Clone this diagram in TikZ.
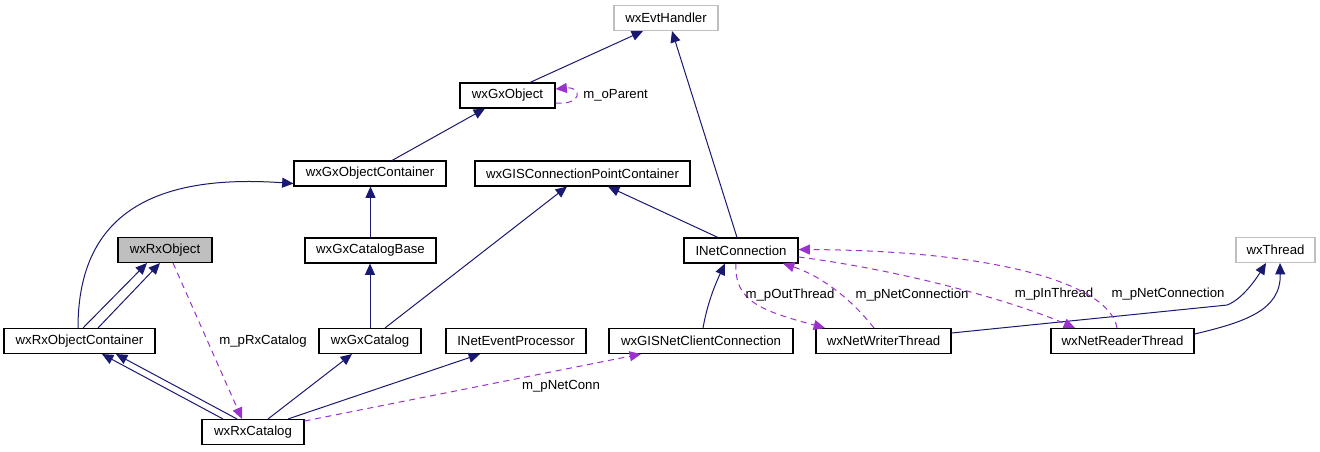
\documentclass[tikz,border=0pt]{standalone}
\usepackage{fontspec}
\setmainfont{Liberation Sans}
\usetikzlibrary{arrows.meta,calc}
\definecolor{navy}{HTML}{191970}
\definecolor{orchid}{HTML}{9A32CD}
\definecolor{lgray}{HTML}{BFBFBF}
\tikzset{
  box/.style={draw=black,line width=0.8pt,fill=white,inner sep=0pt,minimum height=18.75pt,font=\fontsize{9.9pt}{12pt}\selectfont},
  gbox/.style={box,draw=lgray},
  inh/.style={draw=navy,line width=0.75pt,-{Triangle[length=8.5pt,width=7.5pt]},fill=none},
  use/.style={draw=orchid,line width=0.75pt,dash pattern=on 4.5pt off 3.5pt,-{Triangle[length=8.5pt,width=7.5pt,fill=orchid]}},
  lbl/.style={font=\fontsize{9.9pt}{12pt}\selectfont,inner sep=0pt}
}
\begin{document}
\begin{tikzpicture}[x=0.75pt,y=-0.75pt]
\useasboundingbox (0,0) rectangle (1320,451);
% nodes
\node[gbox,minimum width=78pt] (evt) at (666,18) {wxEvtHandler};
\node[box,minimum width=71.25pt] (gxobj) at (507.5,95.5) {wxGxObject};
\node[box,minimum width=114pt] (gxoc) at (370,173.5) {wxGxObjectContainer};
\node[box,minimum width=161.25pt] (cpc) at (582.5,173.5) {wxGISConnectionPointContainer};
\node[box,minimum width=98.25pt] (gxcb) at (370.5,250.5) {wxGxCatalogBase};
\node[box,fill=lgray,minimum width=70.5pt] (rxobj) at (165,250) {wxRxObject};
\node[box,minimum width=85.5pt] (inet) at (741,250.5) {INetConnection};
\node[gbox,minimum width=59.25pt] (thread) at (1275.5,250) {wxThread};
\node[box,minimum width=113.25pt] (rxoc) at (79.5,341) {wxRxObjectContainer};
\node[box,minimum width=76.5pt] (gxcat) at (370,341) {wxGxCatalog};
\node[box,minimum width=105pt] (nep) at (516,341) {INetEventProcessor};
\node[box,minimum width=138pt] (gisnc) at (701,341) {wxGISNetClientConnection};
\node[box,minimum width=101.25pt] (writer) at (883.5,341) {wxNetWriterThread};
\node[box,minimum width=107.25pt] (reader) at (1122.5,341) {wxNetReaderThread};
\node[box,minimum width=76.5pt] (rxcat) at (253,432) {wxRxCatalog};
% inheritance edges
\draw[inh] ($(gxobj.north)+(22.5,0)$) -- ($(evt.south)+(-23,0)$);
\draw[inh] ($(gxoc.north)+(22,0)$) -- ($(gxobj.south)+(-22.5,0)$);
\draw[inh] (gxcb.north) -- (gxcb.north |- gxoc.south);
\draw[inh] (gxcat.north) -- (gxcat.north |- gxcb.south);
\draw[inh] ($(gxcat.north)+(15,0)$) -- ($(cpc.south)+(-15.5,0)$);
\draw[inh] ($(inet.north)+(-23,0)$) -- ($(cpc.south)+(25.5,0)$);
\draw[inh] ($(inet.north)+(-4,0)$) -- ($(evt.south)+(6,0)$);
\draw[inh] ($(rxoc.north)+(-1.5,0)$) .. controls ($(rxoc.north)+(-1.5,-103)$) and ($(gxoc.south west)+(-154,-14)$) .. ($(gxoc.south west)+(0,-3)$);
\draw[inh] ($(rxoc.north)+(3.5,0)$) -- ($(rxobj.south)+(-18,0)$);
\draw[inh] ($(rxoc.north)+(18.5,0)$) -- ($(rxobj.south)+(-5,0)$);
\draw[inh] ($(rxcat.north)+(-30,0)$) -- ($(rxoc.south)+(22.5,0)$);
\draw[inh] ($(rxcat.north)+(-16,0)$) -- ($(rxoc.south)+(36.5,0)$);
\draw[inh] ($(rxcat.north)+(15,0)$) -- ($(gxcat.south)+(-18,0)$);
\draw[inh] ($(rxcat.north)+(35,0)$) -- ($(nep.south)+(-36,0)$);
\draw[inh] ($(writer.east)+(0,-8)$) -- ($(thread.south)+(-48.5,42)$) .. controls ($(thread.south)+(-35,37)$) and ($(thread.south)+(-22,20)$) .. ($(thread.south)+(-9.5,0)$);
\draw[inh] ($(reader.east)+(0,-7)$) .. controls ($(reader.east)+(51,-19)$) and ($(thread.south)+(5.5,47)$) .. ($(thread.south)+(4.5,0)$);
\draw[inh] ($(gisnc.north)+(2,0)$) .. controls ($(gisnc.north)+(7,-28)$) and ($(inet.south)+(-24,17)$) .. ($(inet.south)+(-16,0)$);
% usage edges
\draw[use] ($(gxobj.east)+(0,7.5)$) .. controls ($(gxobj.east)+(27,10)$) and ($(gxobj.east)+(27,-9)$) .. ($(gxobj.east)+(0,-6.5)$);
\node[lbl,anchor=west] (lop) at (583,95) {m\_oParent};
\draw[use] ($(rxobj.south)+(8,0)$) -- ($(rxcat.north)+(-11,0)$);
\node[lbl] (lrx) at (263,341) {m\_pRxCatalog};
\draw[use] ($(rxcat.east)+(0,-11)$) -- ($(gisnc.south)+(-60,0)$);
\node[lbl] (lnc) at (561,386) {m\_pNetConn};
\draw[use] ($(inet.south)+(-5,0)$) .. controls ($(inet.south)+(-7,37)$) and ($(inet.south)+(19,47)$) .. ($(writer.north)+(-58.5,0)$);
\node[lbl] (lot) at (790,295) {m\_pOutThread};
\draw[use] ($(writer.north)+(-9.5,0)$) .. controls ($(writer.north)+(-33,-30)$) and ($(inet.south)+(79,12)$) .. ($(inet.south)+(42,0)$);
\node[lbl] (lnw) at (912,295) {m\_pNetConnection};
\draw[use] ($(inet.east)+(0,6.5)$) .. controls ($(inet.east)+(102,19.5)$) and ($(reader.north)+(-112.5,-28)$) .. ($(reader.north)+(-47.5,0)$);
\node[lbl] (lit) at (1054,294) {m\_pInThread};
\draw[use] ($(reader.north)+(-5.5,0)$) .. controls ($(reader.north)+(-12.5,-43)$) and ($(inet.east)+(202,0)$) .. ($(inet.east)+(0,-1)$);
\node[lbl] (lnr) at (1168,294) {m\_pNetConnection};
\end{tikzpicture}
\end{document}
